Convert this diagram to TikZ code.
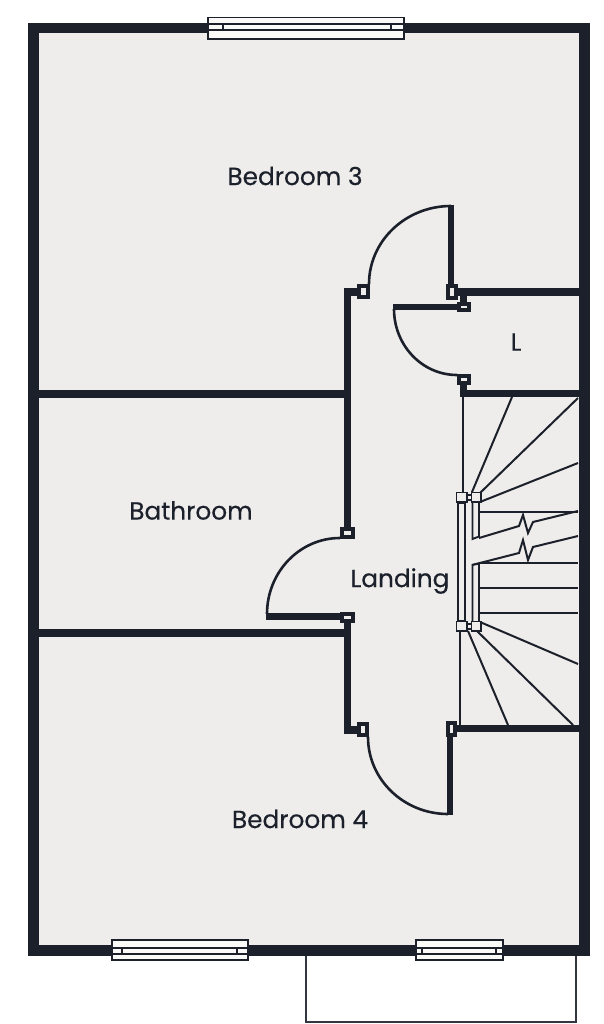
\documentclass[tikz,border=0pt]{standalone}
\usepackage{fontspec}
\setmainfont[FakeBold=0.3]{Poppins}
\usetikzlibrary{calc}
\definecolor{wallink}{HTML}{1B202B}
\definecolor{floorgrey}{HTML}{EEEDEB}
\tikzset{wall/.style={draw=wallink, line width=7.4pt},
  outerwall/.style={draw=wallink, line width=10.5pt, fill=floorgrey},
  leaf/.style={draw=wallink, line width=6.5pt},
  swing/.style={draw=wallink, line width=2.6pt},
  jamb/.style={draw=wallink, line width=3.6pt, fill=floorgrey},
  tread/.style={draw=wallink, line width=2pt},
  rail/.style={draw=wallink, line width=1.9pt, fill=floorgrey},
  glazing/.style={draw=wallink, line width=1.9pt, fill=white!70!floorgrey},
  roomlabel/.style={text=wallink, font=\fontsize{24.8}{28}\selectfont}}
\newcommand{\glazed}[6]{% left, right, top, bottom, inner top, inner bottom
    \draw [glazing] (#1, #3) rectangle (#2, #4);
    \draw [glazing] (#1, #5) rectangle (#2, #6);
}
\begin{document}
\begin{tikzpicture}[x=1pt, y=-1pt]
    \useasboundingbox (0, 0) rectangle (604, 1024);
    \fill [white] (0, 0) rectangle (604, 1024);

    % balcony and shell
    \draw [draw=wallink!90, line width=2pt] (306, 950)--(306, 1022)--(576, 1022)--(576, 950);
    \draw [outerwall] (33.25, 28)--(584.5, 28)--(584.5, 950.5)--(33.25, 950.5)--cycle;

    % windows
    \glazed{208}{404}{17.5}{39}{24}{30}
    \draw [glazing] (223, 24)--(223, 30);
    \draw [glazing] (391, 24)--(391, 30);
    \glazed{112}{248}{940}{960}{948}{954}
    \draw [glazing] (122, 948)--(122, 954);
    \draw [glazing] (237, 948)--(237, 954);
    \glazed{416}{503}{940}{960}{948}{954}
    \draw [glazing] (422, 948)--(422, 954);
    \draw [glazing] (496, 948)--(496, 954);

    % partitions
    \draw [wall] (38, 394)--(347, 394);
    \draw [wall] (38, 633)--(347, 633);
    \draw [wall] (358, 292)--(347.5, 292)--(347.5, 533);
    \draw [wall] (347.5, 617)--(347.5, 730)--(358, 730);
    \draw [wall, line width=8pt] (458, 292)--(580, 292);
    \draw [wall] (463.5, 302)--(463.5, 296);
    \draw [wall] (463.5, 385)--(463.5, 393.5)--(580, 393.5);
    \draw [wall] (456, 728.5)--(580, 728.5);

    % doors
    \draw [leaf] (451, 205)--(451, 285);
    \draw [swing] (451, 206) arc (-90:-180:82 and 78);
    \draw [leaf] (393, 307)--(458, 307);
    \draw [swing] (394, 309) arc (180:90:63 and 66);
    \draw [leaf] (266, 616.5)--(341, 616.5);
    \draw [swing] (267, 614) arc (180:270:73 and 76);
    \draw [leaf] (450, 737)--(450, 815);
    \draw [swing] (368, 737) arc (180:90:80 and 77);

    % jambs
    \draw [jamb] (359, 286) rectangle (368, 297);
    \draw [jamb] (448, 286) rectangle (456, 298);
    \draw [jamb] (459, 304) rectangle (469, 310);
    \draw [jamb] (459, 376) rectangle (469, 383);
    \draw [jamb] (342, 529) rectangle (353, 537);
    \draw [jamb] (342, 614) rectangle (353, 621);
    \draw [jamb] (359, 724) rectangle (367, 735);
    \draw [jamb] (448, 723) rectangle (455, 735);

    % stairs
    \draw [tread] (462.7, 397)--(462.7, 492);
    \draw [tread] (459.5, 631)--(459.5, 725);
    \draw [tread] (472, 492)--(512, 397);
    \draw [tread] (480, 493)--(578, 398);
    \draw [tread] (480, 502)--(578, 463);
    \foreach \treadY in {512, 563, 588, 613} {
        \draw [tread] (479, \treadY)--(578, \treadY);
    }
    \draw [tread] (479, 538)--(519, 526)--(523, 515)--(528, 533)--(533, 522)--(578, 511);
    \draw [tread] (472, 565)--(519, 553)--(523, 540)--(528, 560)--(533, 547)--(578, 536);
    \draw [tread] (480, 622)--(578, 664);
    \draw [tread] (477, 631)--(573, 725);
    \draw [tread] (468, 631)--(508, 725);

    \draw [rail] (458, 503) rectangle (465, 621);
    \draw [rail] (472.5, 503)--(472.5, 539)--(479, 536.5)--(479, 503);
    \draw [rail] (472.5, 621)--(472.5, 565)--(479, 563.5)--(479, 621);
    \foreach \postY in {492.5, 621.5} {
        \draw [rail] (456.5, \postY) rectangle (467, \postY + 9.5);
        \draw [rail] (467, \postY + 2.5) rectangle (471.5, \postY + 7.5);
        \draw [rail] (471.5, \postY) rectangle (481, \postY + 9.5);
    }

    % rooms
    \node [roomlabel] (bedroomthree) at (295, 176) {Bedroom 3};
    \node [roomlabel] (bathroom) at (191, 510.5) {Bathroom};
    \node [roomlabel] (landing) at (400, 581) {Landing};
    \node [roomlabel] (bedroomfour) at (300, 819) {Bedroom 4};
    \node [roomlabel] (linen) at (516, 342) {L};
\end{tikzpicture}
\end{document}
